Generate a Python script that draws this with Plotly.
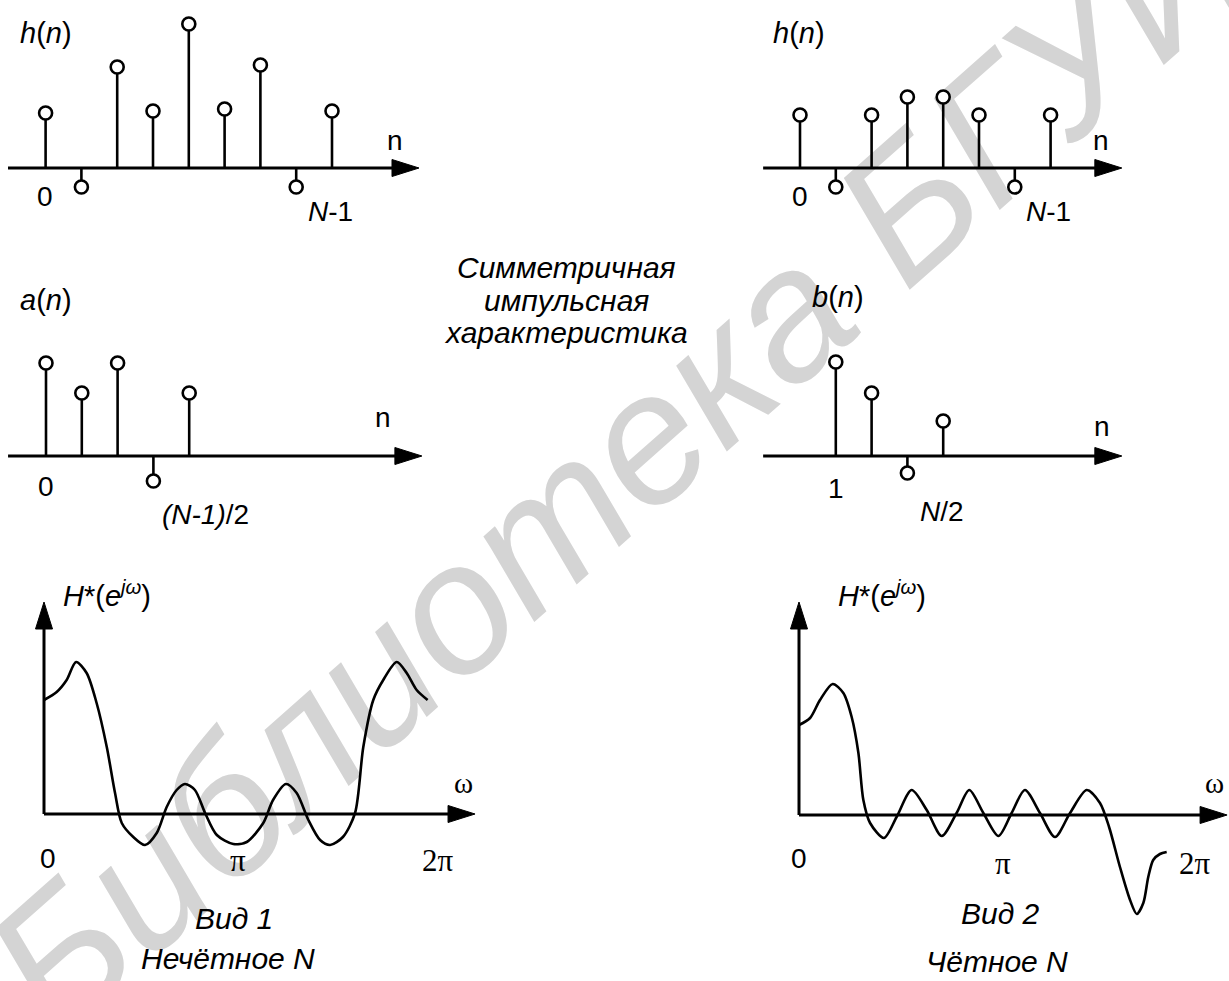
import math
import plotly.graph_objects as go

W, H = 1229, 981

# ---------------- data ----------------
# h(n), odd N = 9
n_odd = [0, 1, 2, 3, 4, 5, 6, 7, 8]
h_odd = [55, -19, 101, 57, 144, 59, 103, -19, 57]
# h(n), even N = 8
n_even = [0, 1, 2, 3, 4, 5, 6, 7]
h_even = [53, -19, 53, 71, 71, 53, -19, 53]
# a(n), n = 0..(N-1)/2
n_a = [0, 1, 2, 3, 4]
a_vals = [93, 63, 93, -25, 63]
# b(n), n = 1..N/2
n_b = [1, 2, 3, 4]
b_vals = [94, 63, -17, 35]

# H*(e^jw), type 1 (omega in units of pi)
w1 = [0.0, 0.066, 0.118, 0.167, 0.222, 0.274, 0.327, 0.37, 0.405, 0.465,
      0.526, 0.587, 0.639, 0.691, 0.734, 0.786, 0.839, 0.9, 0.986, 1.056,
      1.142, 1.193, 1.26, 1.316, 1.377, 1.438, 1.49, 1.557, 1.62, 1.663,
      1.715, 1.767, 1.837, 1.889, 1.941, 1.998]
H1 = [114, 122, 134, 152, 141, 111, 67, 21, -9, -23,
      -31, -19, 7, 24, 30, 24, 1, -21, -30, -28,
      -9, 14, 30, 21, -6, -26, -31, -23, 1, 67,
      114, 134, 152, 141, 124, 114]
# H*(e^jw), type 2
w2 = [0.0, 0.056, 0.106, 0.17, 0.224, 0.266, 0.3, 0.325, 0.359, 0.429,
      0.493, 0.569, 0.645, 0.721, 0.796, 0.86, 0.931, 1.007, 1.074, 1.141,
      1.217, 1.293, 1.369, 1.453, 1.52, 1.566, 1.621, 1.672, 1.706, 1.739,
      1.764, 1.789, 1.823, 1.857]
H2 = [90, 97, 115, 131, 122, 98, 62, 15, -8, -23,
      -2, 25, 5, -21, 2, 25, 2, -21, 2, 25,
      2, -22, 2, 25, 12, -12, -52, -85, -99, -88,
      -62, -45, -39, -37]

# ---------------- geometry ----------------
PANELS = {
    1: dict(box=(0, 0, 440, 235), x0=45.6, sx=35.8, y0=168, sy=1.0),
    2: dict(box=(740, 0, 1229, 235), x0=800, sx=35.8, y0=168, sy=1.0),
    3: dict(box=(0, 250, 440, 530), x0=46, sx=35.8, y0=456, sy=1.0),
    4: dict(box=(740, 250, 1229, 530), x0=800, sx=35.8, y0=456, sy=1.0),
    5: dict(box=(0, 560, 500, 981), x0=44, sx=192, y0=814, sy=1.0),
    6: dict(box=(760, 560, 1229, 981), x0=799, sx=198, y0=815, sy=1.0),
}

fig = go.Figure()
layout_axes = {}
for k, p in PANELS.items():
    l, t, r, b = p["box"]
    xr = [(l - p["x0"]) / p["sx"], (r - p["x0"]) / p["sx"]]
    yr = [(p["y0"] - b) / p["sy"], (p["y0"] - t) / p["sy"]]
    sfx = "" if k == 1 else str(k)
    common = dict(visible=False, fixedrange=True, showgrid=False, zeroline=False)
    layout_axes["xaxis" + sfx] = dict(domain=[l / W, r / W], range=xr,
                                      anchor="y" + sfx, **common)
    layout_axes["yaxis" + sfx] = dict(domain=[1 - b / H, 1 - t / H], range=yr,
                                      anchor="x" + sfx, **common)

LW_AX = 3
HEAD_L, HEAD_W = 27, 17


def refs(k):
    return ("x" if k == 1 else "x%d" % k), ("y" if k == 1 else "y%d" % k)


def h_arrow(k, x_start, x_tip):
    p = PANELS[k]
    xa, ya = refs(k)
    L = HEAD_L / p["sx"]
    hw = HEAD_W / 2 / p["sy"]
    fig.add_trace(go.Scatter(x=[x_start, x_tip - L * 0.5], y=[0, 0], mode="lines",
                             line=dict(color="black", width=LW_AX),
                             xaxis=xa, yaxis=ya, hoverinfo="skip"))
    fig.add_trace(go.Scatter(x=[x_tip - L, x_tip, x_tip - L, x_tip - L],
                             y=[hw, 0, -hw, hw], mode="lines", fill="toself",
                             fillcolor="black", line=dict(color="black", width=1),
                             xaxis=xa, yaxis=ya, hoverinfo="skip"))


def v_arrow(k, y_tip):
    p = PANELS[k]
    xa, ya = refs(k)
    L = HEAD_L / p["sy"]
    hw = HEAD_W / 2 / p["sx"]
    fig.add_trace(go.Scatter(x=[0, 0], y=[0, y_tip - L * 0.5], mode="lines",
                             line=dict(color="black", width=LW_AX),
                             xaxis=xa, yaxis=ya, hoverinfo="skip"))
    fig.add_trace(go.Scatter(x=[-hw, 0, hw, -hw], y=[y_tip - L, y_tip, y_tip - L, y_tip - L],
                             mode="lines", fill="toself", fillcolor="black",
                             line=dict(color="black", width=1),
                             xaxis=xa, yaxis=ya, hoverinfo="skip"))


def stems(k, ns, vals):
    xa, ya = refs(k)
    xs, ys = [], []
    for n, v in zip(ns, vals):
        xs += [n, n, None]
        ys += [0, v, None]
    fig.add_trace(go.Scatter(x=xs, y=ys, mode="lines",
                             line=dict(color="black", width=2.6),
                             xaxis=xa, yaxis=ya, hoverinfo="skip"))
    fig.add_trace(go.Scatter(x=ns, y=vals, mode="markers",
                             marker=dict(symbol="circle", size=13, color="white",
                                         line=dict(color="black", width=2.6)),
                             xaxis=xa, yaxis=ya, hoverinfo="skip"))


def curve(k, xs, ys):
    xa, ya = refs(k)
    fig.add_trace(go.Scatter(x=xs, y=ys, mode="lines",
                             line=dict(color="black", width=2.6, shape="spline", smoothing=0.8),
                             xaxis=xa, yaxis=ya, hoverinfo="skip"))


h_arrow(1, -1.05, 10.43)
stems(1, n_odd, h_odd)
h_arrow(2, -1.03, 8.99)
stems(2, n_even, h_even)
h_arrow(3, -1.06, 10.5)
stems(3, n_a, a_vals)
h_arrow(4, -1.03, 8.99)
stems(4, n_b, b_vals)

curve(5, w1, H1)
h_arrow(5, 0, 2.245)
v_arrow(5, 212)
curve(6, w2, H2)
h_arrow(6, 0, 2.162)
v_arrow(6, 213)

# ---------------- text ----------------
SANS = "Liberation Sans, Arial, sans-serif"
SERIF = "Liberation Serif, Times New Roman, serif"
FS = 28
FB = 30
annotations = []


def txt(x, y, s, size=FS, family=SANS):
    annotations.append(dict(x=x / W, y=1 - y / H, xref="paper", yref="paper", text=s,
                            showarrow=False, xanchor="center", yanchor="middle",
                            font=dict(family=family, size=size, color="black")))


# top-left
txt(46, 33, "<i>h</i>(<i>n</i>)", size=29)
txt(395, 140, "n")
txt(45, 196, "0")
txt(330, 211, "<i>N</i>-1")
# top-right
txt(799, 33, "<i>h</i>(<i>n</i>)", size=29)
txt(1101, 140, "n")
txt(800, 196, "0")
txt(1048, 211, "<i>N</i>-1")
# middle text
txt(566, 267, "<i>Симметричная</i>", size=FB)
txt(566, 300, "<i>импульсная</i>", size=FB)
txt(566, 333, "<i>характеристика</i>", size=FB)
# a(n)
txt(46, 300, "<i>a</i>(<i>n</i>)", size=29)
txt(383, 417, "n")
txt(46, 486, "0")
txt(205, 514, "<i>(N-1)</i>/2")
# b(n)
txt(838, 297, "<i>b</i>(<i>n</i>)", size=29)
txt(1102, 426, "n")
txt(836, 488, "1")
txt(942, 511, "<i>N</i>/2")
# H* left
HSTAR = "<i>H</i>*(<i>e</i><sup><i>jω</i></sup>)"
txt(107, 594, HSTAR, size=29)
txt(463, 783, "ω", family=SERIF, size=29)
txt(48, 858, "0")
txt(238, 860, "π", family=SERIF, size=31)
txt(438, 860, "2π", family=SERIF, size=31)
txt(234, 918, "<i>Вид 1</i>", size=FB)
txt(228, 958, "<i>Нечётное N</i>", size=FB)
# H* right
txt(882, 594, HSTAR, size=29)
txt(1214, 783, "ω", family=SERIF, size=29)
txt(799, 858, "0")
txt(1003, 863, "π", family=SERIF, size=31)
txt(1195, 863, "2π", family=SERIF, size=31)
txt(1000, 913, "<i>Вид 2</i>", size=FB)
txt(997, 961, "<i>Чётное N</i>", size=FB)

# ---------------- watermark (behind everything) ----------------
ang = math.radians(41.5)
cx, cy, half = 650, 410, 700
x_a, y_a = cx - half * math.cos(ang), cy + half * math.sin(ang)
x_b, y_b = cx + half * math.cos(ang), cy - half * math.sin(ang)
shapes = [dict(type="line", xref="paper", yref="paper", layer="below",
               x0=x_a / W, y0=1 - y_a / H, x1=x_b / W, y1=1 - y_b / H,
               line=dict(color="rgba(0,0,0,0)", width=0),
               label=dict(text="Библиотека БГУИР", textangle=-41.5,
                          textposition="middle", xanchor="center", yanchor="middle",
                          font=dict(family=SANS, size=185, color="#d4d4d4", style="italic")))]

fig.update_layout(
    width=W, height=H, margin=dict(l=0, r=0, t=0, b=0),
    paper_bgcolor="white", plot_bgcolor="rgba(0,0,0,0)",
    showlegend=False, hovermode=False,
    annotations=annotations, shapes=shapes,
    **layout_axes,
)

fig.write_html("out.html", config={"displayModeBar": False, "staticPlot": True},
               post_script="document.body.style.margin='0px';document.body.style.overflow='hidden';")
